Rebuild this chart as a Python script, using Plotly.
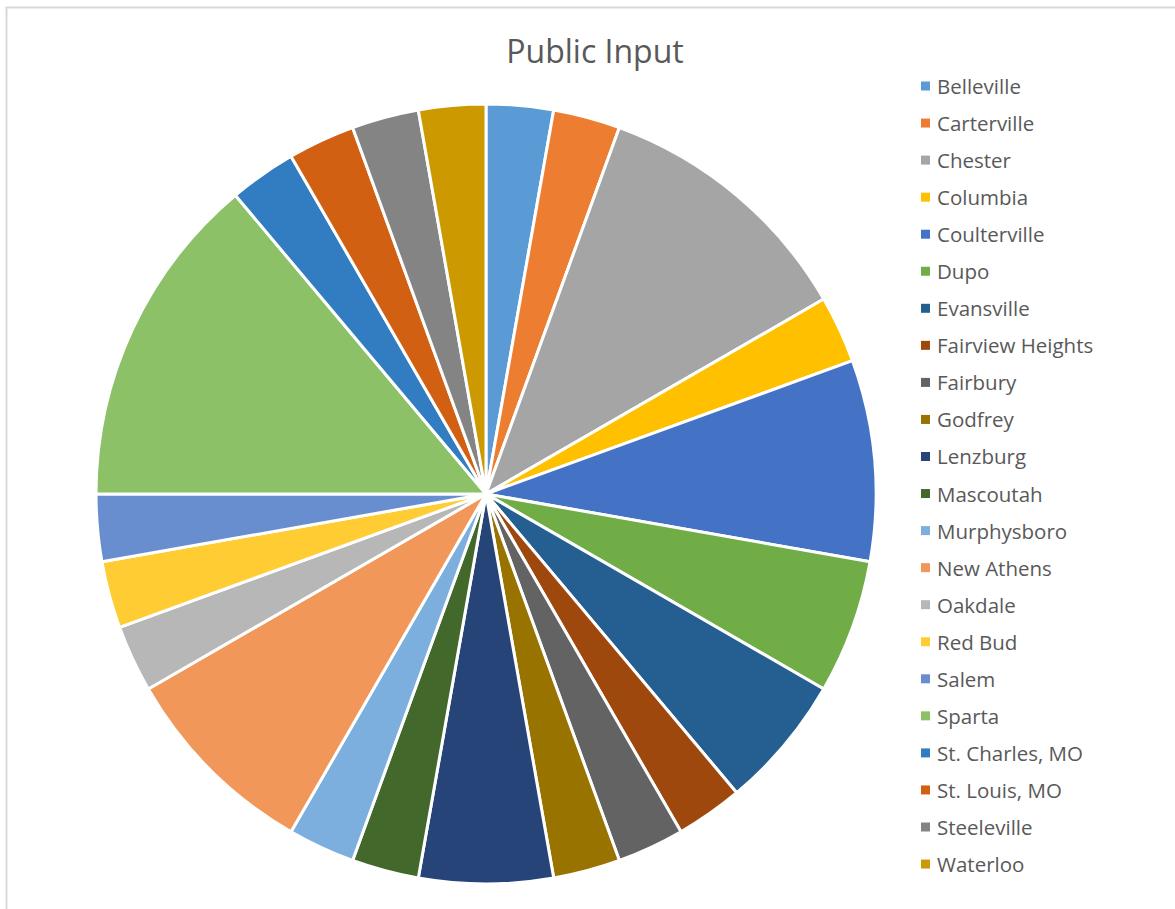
import plotly.graph_objects as go

labels = ["Belleville", "Carterville", "Chester", "Columbia", "Coulterville", "Dupo",
          "Evansville", "Fairview Heights", "Fairbury", "Godfrey", "Lenzburg", "Mascoutah",
          "Murphysboro", "New Athens", "Oakdale", "Red Bud", "Salem", "Sparta",
          "St. Charles, MO", "St. Louis, MO", "Steeleville", "Waterloo"]
values = [1, 1, 4, 1, 3, 2, 2, 1, 1, 1, 2, 1, 1, 3, 1, 1, 1, 5, 1, 1, 1, 1]
colors = ["#5B9BD5", "#ED7D31", "#A5A5A5", "#FFC000", "#4472C4", "#70AD47",
          "#255E91", "#9E480E", "#636363", "#997300", "#264478", "#43682B",
          "#7CAFDD", "#F1975A", "#B7B7B7", "#FFCD33", "#698ED0", "#8CC168",
          "#327DC2", "#D26012", "#848484", "#CC9A00"]

W, H = 1175, 909
FONT = "Open Sans"
TEXT = "#595959"

fig = go.Figure(go.Pie(
    labels=labels, values=values, sort=False, direction="clockwise", rotation=0,
    marker=dict(colors=colors, line=dict(color="white", width=3)),
    textinfo="none", showlegend=False,
    domain=dict(x=[96 / W, 876 / W], y=[(H - 884) / H, (H - 104) / H]),
))

# Excel-style legend on the right
y0, step = 86, 37.05
for i, (lab, col) in enumerate(zip(labels, colors)):
    yc = y0 + i * step
    fig.add_shape(type="rect", xref="paper", yref="paper",
                  x0=921 / W, x1=930 / W, y0=1 - (yc + 4.5) / H, y1=1 - (yc - 4.5) / H,
                  fillcolor=col, line=dict(width=0))
    fig.add_annotation(text=lab, xref="paper", yref="paper", x=935 / W, y=1 - yc / H,
                       xanchor="left", yanchor="middle", showarrow=False,
                       font=dict(family=FONT, size=20.5, color=TEXT))

# chart border
fig.add_shape(type="rect", xref="paper", yref="paper",
              x0=6.5 / W, x1=1.01, y0=-0.01, y1=1 - 7.5 / H,
              line=dict(color="#D9D9D9", width=2), fillcolor="rgba(0,0,0,0)", layer="below")

fig.update_layout(
    width=W, height=H,
    margin=dict(l=0, r=0, t=0, b=0),
    paper_bgcolor="white", plot_bgcolor="white",
    title=dict(text="Public Input", x=595 / W, xanchor="center", y=1 - 52 / H, yanchor="middle",
               font=dict(family=FONT, size=32, color=TEXT)),
)

fig.write_html("out.html", config={"displayModeBar": False},
               post_script="document.body.style.margin='0';")
